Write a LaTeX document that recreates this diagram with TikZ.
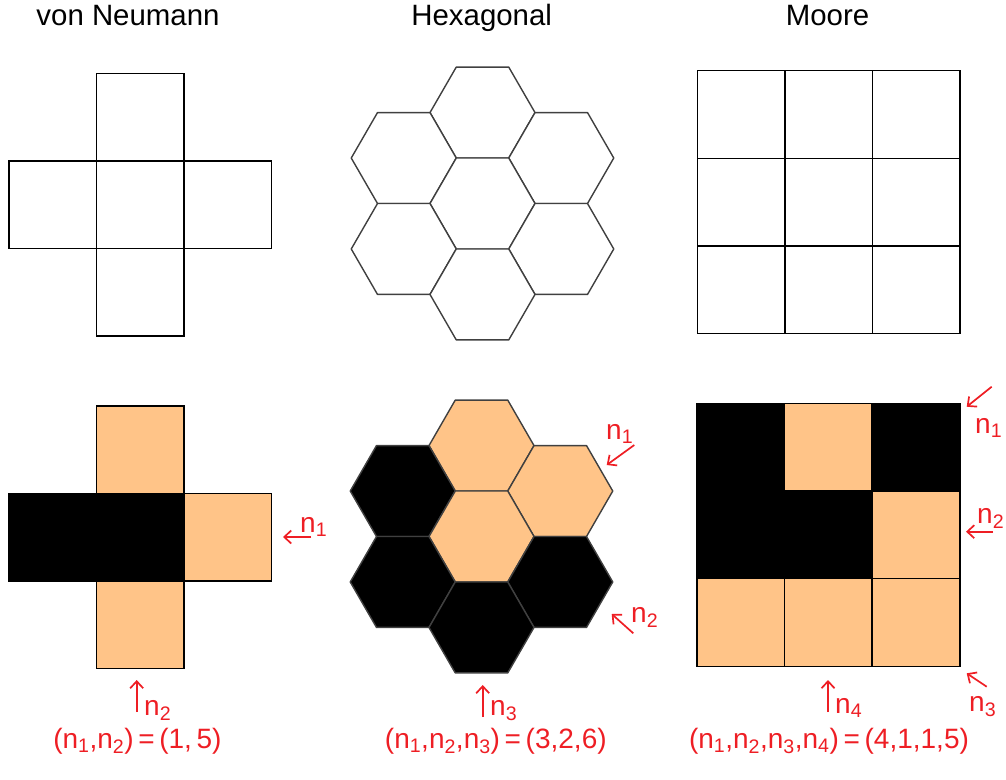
\documentclass[tikz,border=0pt]{standalone}
\usepackage{fontspec}
\setmainfont{Liberation Sans}
\usetikzlibrary{arrows.meta}
\definecolor{peach}{RGB}{255,196,136}
\definecolor{lbl}{RGB}{238,30,36}
\newcommand\hexcell[3]{\filldraw[hexline,fill=#3,shift={(#1,#2)}] (52.5,0) -- (26.25,45.47) -- (-26.25,45.47) -- (-52.5,0) -- (-26.25,-45.47) -- (26.25,-45.47) -- cycle;}
\begin{document}
\begin{tikzpicture}[x=1pt,y=-1pt,
  cell/.style={draw=black,line width=1.5pt},
  hexline/.style={draw=black!75,line width=1.4pt,line join=round},
  lab/.style={text=lbl,font=\fontsize{28}{30}\selectfont,inner sep=0pt},
  ttl/.style={font=\fontsize{29.4}{32}\selectfont,inner sep=0pt},
  narrow/.style={draw=lbl,line width=1.7pt,-{Straight Barb[length=7pt,width=13pt]}}]
\useasboundingbox (0,0) rectangle (1006,779);

% titles
\node[ttl,anchor=base] (t1) at (128,25) {von Neumann};
\node[ttl,anchor=base] (t2) at (481.7,25) {Hexagonal};
\node[ttl,anchor=base] (t3) at (827.5,25) {Moore};

% ---- von Neumann top
\draw[cell,fill=white] (96.7,73.5) rectangle ++(87.5,87.5);
\draw[cell,fill=white] (9.2,161) rectangle ++(87.5,87.5);
\draw[cell,fill=white] (96.7,161) rectangle ++(87.5,87.5);
\draw[cell,fill=white] (184.2,161) rectangle ++(87.5,87.5);
\draw[cell,fill=white] (96.7,248.5) rectangle ++(87.5,87.5);

% ---- von Neumann bottom
\draw[cell,fill=peach] (96.3,406) rectangle ++(87.5,87.5);
\draw[cell,fill=peach] (183.8,493.5) rectangle ++(87.5,87.5);
\draw[cell,fill=peach] (96.3,581) rectangle ++(87.5,87.5);
\draw[cell,fill=black] (8.8,493.5) rectangle ++(175,87.5);

% ---- hexagonal top
\hexcell{482.5}{112.57}{white}
\hexcell{403.75}{158.03}{white}
\hexcell{561.25}{158.03}{white}
\hexcell{482.5}{203.5}{white}
\hexcell{403.75}{248.97}{white}
\hexcell{561.25}{248.97}{white}
\hexcell{482.5}{294.43}{white}

% ---- hexagonal bottom
\hexcell{481.5}{445.57}{peach}
\hexcell{402.75}{491.03}{black}
\hexcell{560.25}{491.03}{peach}
\hexcell{481.5}{536.5}{peach}
\hexcell{402.75}{581.97}{black}
\hexcell{560.25}{581.97}{black}
\hexcell{481.5}{627.43}{black}

% ---- Moore top
\foreach \i in {0,1,2}{\foreach \j in {0,1,2}{
  \draw[cell] ({697.3+87.6*\i},{70.7+87.6*\j}) rectangle ++(87.6,87.6);}}

% ---- Moore bottom
\fill[black] (697,403.5) rectangle ++(87.6,175.2);
\fill[black] (784.6,491.1) rectangle ++(87.6,87.6);
\fill[black] (872.2,403.5) rectangle ++(87.6,87.6);
\draw[cell,fill=peach] (784.6,403.5) rectangle ++(87.6,87.6);
\draw[cell,fill=peach] (872.2,491.1) rectangle ++(87.6,87.6);
\draw[cell,fill=peach] (697,578.7) rectangle ++(87.6,87.6);
\draw[cell,fill=peach] (784.6,578.7) rectangle ++(87.6,87.6);
\draw[cell,fill=peach] (872.2,578.7) rectangle ++(87.6,87.6);
\draw[cell] (697,403.5) rectangle (959.8,666.3);

% ---- arrows and labels: von Neumann
\coordinate (va1) at (311,537); \coordinate (vb1) at (283,537);
\draw[narrow] (va1) -- (vb1);
\node[lab,anchor=base west] (vl1) at (300,532) {n\textsubscript{1}};
\coordinate (va2) at (136.7,712); \coordinate (vb2) at (136.7,680);
\draw[narrow] (va2) -- (vb2);
\node[lab,anchor=base west] (vl2) at (144,715) {n\textsubscript{2}};
\node[lab,anchor=base] (vf) at (137.4,748) {(n\textsubscript{1},n\textsubscript{2})\,=\,(1,\,5)};

% ---- hexagonal
\coordinate (ha1) at (634.3,445); \coordinate (hb1) at (606.7,465);
\draw[narrow] (ha1) -- (hb1);
\node[lab,anchor=base west] (hl1) at (606,439) {n\textsubscript{1}};
\coordinate (ha2) at (633.3,633.3); \coordinate (hb2) at (611.7,614);
\draw[narrow] (ha2) -- (hb2);
\node[lab,anchor=base west] (hl2) at (631,622) {n\textsubscript{2}};
\coordinate (ha3) at (482.7,717); \coordinate (hb3) at (482.7,685);
\draw[narrow] (ha3) -- (hb3);
\node[lab,anchor=base west] (hl3) at (490,715) {n\textsubscript{3}};
\node[lab,anchor=base] (hf) at (495.8,748) {(n\textsubscript{1},n\textsubscript{2},n\textsubscript{3})\,=\,(3,2,6)};

% ---- Moore
\coordinate (ma1) at (991.7,386.7); \coordinate (mb1) at (966.7,406.7);
\draw[narrow] (ma1) -- (mb1);
\node[lab,anchor=base west] (ml1) at (975,433) {n\textsubscript{1}};
\coordinate (ma2) at (993,531.7); \coordinate (mb2) at (966,531.7);
\draw[narrow] (ma2) -- (mb2);
\node[lab,anchor=base west] (ml2) at (977,523) {n\textsubscript{2}};
\coordinate (ma3) at (986.7,686.7); \coordinate (mb3) at (966.7,673.3);
\draw[narrow] (ma3) -- (mb3);
\node[lab,anchor=base west] (ml3) at (969,711) {n\textsubscript{3}};
\coordinate (ma4) at (828,712); \coordinate (mb4) at (828,680);
\draw[narrow] (ma4) -- (mb4);
\node[lab,anchor=base west] (ml4) at (835,713) {n\textsubscript{4}};
\node[lab,anchor=base] (mf) at (829,748) {(n\textsubscript{1},n\textsubscript{2},n\textsubscript{3},n\textsubscript{4})\,=\,(4,1,1,5)};
\end{tikzpicture}
\end{document}
